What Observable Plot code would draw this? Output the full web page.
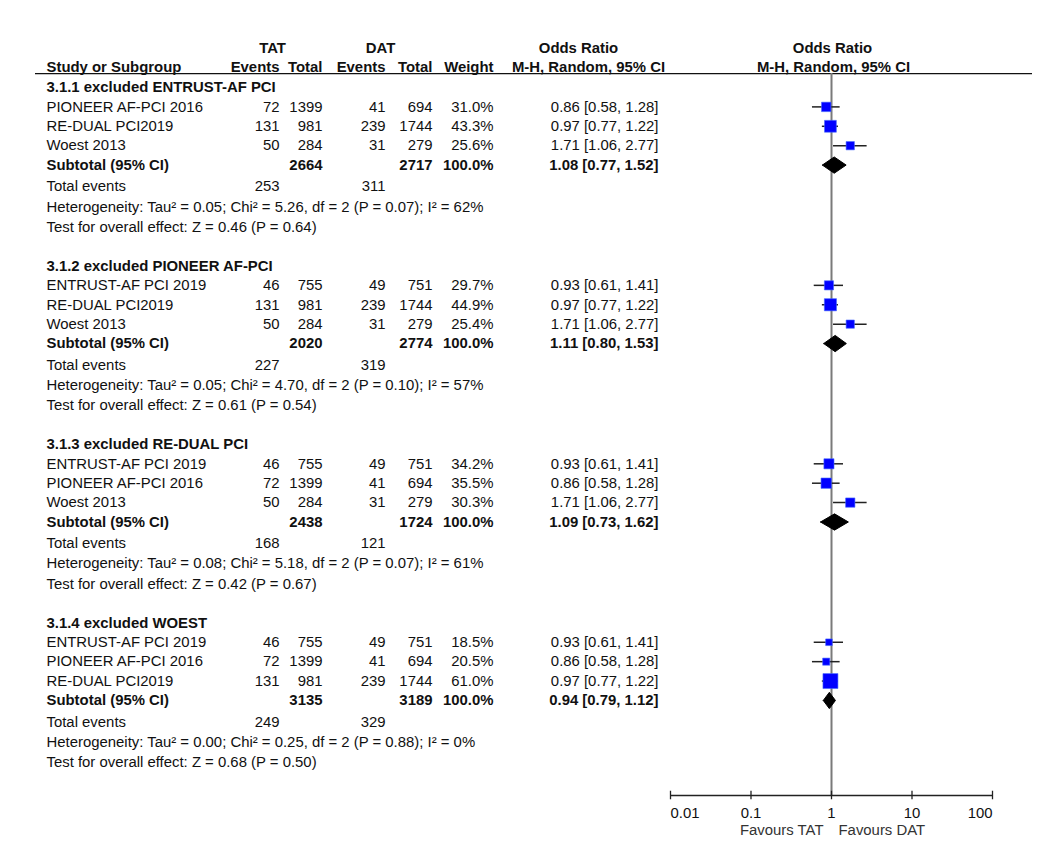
<!DOCTYPE html>
<html>
<head>
<meta charset="utf-8">
<script src="https://cdn.jsdelivr.net/npm/d3@7"></script>
<script src="https://cdn.jsdelivr.net/npm/@observablehq/plot@0.6"></script>
<style>
  html, body { margin: 0; padding: 0; background: #fff; }
  #chart svg { display: block; }
</style>
</head>
<body>
<div id="chart"></div>
<script>
// ---------------- DATA ----------------
const groupTitles = [
  "3.1.1 excluded ENTRUST-AF PCI",
  "3.1.2 excluded PIONEER AF-PCI",
  "3.1.3 excluded RE-DUAL PCI",
  "3.1.4 excluded WOEST"
];
// study rows per group
const studyNames = [
  ["PIONEER AF-PCI 2016", "RE-DUAL PCI2019", "Woest 2013"],
  ["ENTRUST-AF PCI 2019", "RE-DUAL PCI2019", "Woest 2013"],
  ["ENTRUST-AF PCI 2019", "PIONEER AF-PCI 2016", "Woest 2013"],
  ["ENTRUST-AF PCI 2019", "PIONEER AF-PCI 2016", "RE-DUAL PCI2019"]
];
const tatEvents = [[72, 131, 50], [46, 131, 50], [46, 72, 50], [46, 72, 131]];
const tatTotal  = [[1399, 981, 284], [755, 981, 284], [755, 1399, 284], [755, 1399, 981]];
const datEvents = [[41, 239, 31], [49, 239, 31], [49, 41, 31], [49, 41, 239]];
const datTotal  = [[694, 1744, 279], [751, 1744, 279], [751, 694, 279], [751, 694, 1744]];
const weights   = [[31.0, 43.3, 25.6], [29.7, 44.9, 25.4], [34.2, 35.5, 30.3], [18.5, 20.5, 61.0]];
const orEst     = [[0.86, 0.97, 1.71], [0.93, 0.97, 1.71], [0.93, 0.86, 1.71], [0.93, 0.86, 0.97]];
const orLow     = [[0.58, 0.77, 1.06], [0.61, 0.77, 1.06], [0.61, 0.58, 1.06], [0.61, 0.58, 0.77]];
const orHigh    = [[1.28, 1.22, 2.77], [1.41, 1.22, 2.77], [1.41, 1.28, 2.77], [1.41, 1.28, 1.22]];

// subtotals per group
const subTatTotal = [2664, 2020, 2438, 3135];
const subDatTotal = [2717, 2774, 1724, 3189];
const subEst  = [1.08, 1.11, 1.09, 0.94];
const subLow  = [0.77, 0.80, 0.73, 0.79];
const subHigh = [1.52, 1.53, 1.62, 1.12];
const totTatEvents = [253, 227, 168, 249];
const totDatEvents = [311, 319, 121, 329];
const heterogeneity = [
  "Heterogeneity: Tau² = 0.05; Chi² = 5.26, df = 2 (P = 0.07); I² = 62%",
  "Heterogeneity: Tau² = 0.05; Chi² = 4.70, df = 2 (P = 0.10); I² = 57%",
  "Heterogeneity: Tau² = 0.08; Chi² = 5.18, df = 2 (P = 0.07); I² = 61%",
  "Heterogeneity: Tau² = 0.00; Chi² = 0.25, df = 2 (P = 0.88); I² = 0%"
];
const overallTest = [
  "Test for overall effect: Z = 0.46 (P = 0.64)",
  "Test for overall effect: Z = 0.61 (P = 0.54)",
  "Test for overall effect: Z = 0.42 (P = 0.67)",
  "Test for overall effect: Z = 0.68 (P = 0.50)"
];
const axisTicks = [0.01, 0.1, 1, 10, 100];
const axisTickLabels = ["0.01", "0.1", "1", "10", "100"];

// ---------------- LAYOUT (row units) ----------------
const GROUP_STEP = 9.2;
const OFF = {head: 0, study: [1, 2, 3], sub: 4, tot: 5.1, het: 6.15, test: 7.2};
const AXIS_Y = 36.5, TICKLAB_Y = 37.4, FAV_Y = 38.3;
const HDR1_Y = -2.05, HDR2_Y = -1.03, HDR_LINE_Y = -0.72;

const ML = 35, MR = 8;
const col = px => px - ML;          // column anchor → dx from frame left
const C = {label: 46, tatE: 279, tatT: 322, datE: 385, datT: 432, wt: 493, orTxt: 658,
           tatHead: 272, datHead: 380, orHead: 578, plotHead: 832};

const fmt1 = d3.format(".1f");
const fmt2 = d3.format(".2f");
const ciText = (e, l, h) => `${fmt2(e)} [${fmt2(l)}, ${fmt2(h)}]`;
const str = k => d => String(d[k]);

const studies = [];
const groupRows = [];
groupTitles.forEach((title, g) => {
  const base = g * GROUP_STEP;
  groupRows.push({
    g, title,
    yHead: base + OFF.head, ySub: base + OFF.sub, yTot: base + OFF.tot,
    yHet: base + OFF.het, yTest: base + OFF.test,
    subTat: subTatTotal[g], subDat: subDatTotal[g],
    est: subEst[g], lo: subLow[g], hi: subHigh[g],
    totTat: totTatEvents[g], totDat: totDatEvents[g],
    het: heterogeneity[g], test: overallTest[g]
  });
  studyNames[g].forEach((name, i) => {
    studies.push({
      g, name, y: base + OFF.study[i],
      tatE: tatEvents[g][i], tatT: tatTotal[g][i],
      datE: datEvents[g][i], datT: datTotal[g][i],
      w: weights[g][i], est: orEst[g][i], lo: orLow[g][i], hi: orHigh[g][i]
    });
  });
});

const DIAMOND_H = 0.42;
const diamondPts = groupRows.flatMap(r => [
  {g: r.g, x: r.lo, y: r.ySub},
  {g: r.g, x: r.est, y: r.ySub - DIAMOND_H},
  {g: r.g, x: r.hi, y: r.ySub},
  {g: r.g, x: r.est, y: r.ySub + DIAMOND_H},
  {g: r.g, x: r.lo, y: r.ySub}
]);

const headers1 = [
  {t: "TAT", dx: col(C.tatHead)},
  {t: "DAT", dx: col(C.datHead)},
  {t: "Odds Ratio", dx: col(C.orHead)},
  {t: "Odds Ratio", dx: col(C.plotHead)}
];
const headers2 = [
  {t: "Study or Subgroup", dx: col(C.label), a: "start"},
  {t: "Events", dx: col(C.tatE), a: "end"},
  {t: "Total", dx: col(C.tatT), a: "end"},
  {t: "Events", dx: col(C.datE), a: "end"},
  {t: "Total", dx: col(C.datT), a: "end"},
  {t: "Weight", dx: col(C.wt), a: "end"},
  {t: "M-H, Random, 95% CI", dx: col(C.orHead + 10), a: "middle"},
  {t: "M-H, Random, 95% CI", dx: col(C.plotHead + 1), a: "middle"}
];

const FONT = "'Liberation Sans', Arial, Helvetica, sans-serif";
const FS = 14.9;
const T = (data, opts) => Plot.text(data, {frameAnchor: "left", fill: "#111", fontSize: FS, ...opts});

const firstTick = [axisTicks[0]], midTicks = axisTicks.slice(1, -1), lastTick = [axisTicks[axisTicks.length - 1]];
const tickLabel = d => axisTickLabels[axisTicks.indexOf(d)];

const marks = [
  // header line
  Plot.ruleY([HDR_LINE_Y], {stroke: "#111", strokeWidth: 1.3}),
  // header texts
  ...headers1.map(h => T([h], {y: () => HDR1_Y, text: "t", dx: h.dx, textAnchor: "middle", fontWeight: "bold"})),
  ...headers2.map(h => T([h], {y: () => HDR2_Y, text: "t", dx: h.dx, textAnchor: h.a, fontWeight: "bold"})),
  // group titles
  T(groupRows, {y: "yHead", text: "title", dx: col(C.label), textAnchor: "start", fontWeight: "bold"}),
  // study rows
  T(studies, {y: "y", text: "name", dx: col(C.label), textAnchor: "start"}),
  T(studies, {y: "y", text: str("tatE"), dx: col(C.tatE), textAnchor: "end"}),
  T(studies, {y: "y", text: str("tatT"), dx: col(C.tatT), textAnchor: "end"}),
  T(studies, {y: "y", text: str("datE"), dx: col(C.datE), textAnchor: "end"}),
  T(studies, {y: "y", text: str("datT"), dx: col(C.datT), textAnchor: "end"}),
  T(studies, {y: "y", text: d => fmt1(d.w) + "%", dx: col(C.wt), textAnchor: "end"}),
  T(studies, {y: "y", text: d => ciText(d.est, d.lo, d.hi), dx: col(C.orTxt), textAnchor: "end"}),
  // subtotal rows
  T(groupRows, {y: "ySub", text: () => "Subtotal (95% CI)", dx: col(C.label), textAnchor: "start", fontWeight: "bold"}),
  T(groupRows, {y: "ySub", text: str("subTat"), dx: col(C.tatT), textAnchor: "end", fontWeight: "bold"}),
  T(groupRows, {y: "ySub", text: str("subDat"), dx: col(C.datT), textAnchor: "end", fontWeight: "bold"}),
  T(groupRows, {y: "ySub", text: () => "100.0%", dx: col(C.wt), textAnchor: "end", fontWeight: "bold"}),
  T(groupRows, {y: "ySub", text: d => ciText(d.est, d.lo, d.hi), dx: col(C.orTxt), textAnchor: "end", fontWeight: "bold"}),
  // total events
  T(groupRows, {y: "yTot", text: () => "Total events", dx: col(C.label), textAnchor: "start"}),
  T(groupRows, {y: "yTot", text: str("totTat"), dx: col(C.tatE), textAnchor: "end"}),
  T(groupRows, {y: "yTot", text: str("totDat"), dx: col(C.datE), textAnchor: "end"}),
  // heterogeneity & test
  T(groupRows, {y: "yHet", text: "het", dx: col(C.label), textAnchor: "start"}),
  T(groupRows, {y: "yTest", text: "test", dx: col(C.label), textAnchor: "start"}),

  // forest plot: line of no effect
  Plot.ruleX([1], {y1: HDR_LINE_Y, y2: AXIS_Y, stroke: "#7a7a7a", strokeWidth: 2}),
  // axis
  Plot.ruleY([AXIS_Y], {x1: axisTicks[0], x2: axisTicks[axisTicks.length - 1], stroke: "#222", strokeWidth: 1.3}),
  Plot.ruleX(axisTicks, {x: d => d, y1: AXIS_Y - 0.22, y2: AXIS_Y + 0.22, stroke: "#222", strokeWidth: 1.3}),
  Plot.text(firstTick, {x: d => d, y: () => TICKLAB_Y, text: tickLabel, textAnchor: "start", fontSize: FS, fill: "#111"}),
  Plot.text(midTicks, {x: d => d, y: () => TICKLAB_Y, text: tickLabel, textAnchor: "middle", fontSize: FS, fill: "#111"}),
  Plot.text(lastTick, {x: d => d, y: () => TICKLAB_Y, text: tickLabel, textAnchor: "end", fontSize: FS, fill: "#111"}),
  Plot.text(["Favours TAT"], {x: () => 1, y: () => FAV_Y, text: d => d, dx: -8, textAnchor: "end", fontSize: FS, fill: "#333"}),
  Plot.text(["Favours DAT"], {x: () => 1, y: () => FAV_Y, text: d => d, dx: 7, textAnchor: "start", fontSize: FS, fill: "#333"}),

  // CI whiskers
  Plot.ruleY(studies, {y: "y", x1: "lo", x2: "hi", stroke: "#222", strokeWidth: 1.5}),
  // weighted squares
  Plot.dot(studies, {x: "est", y: "y", r: "w", symbol: "square", fill: "#0000ff", stroke: "#4a6cff", strokeWidth: 0.6}),
  // diamonds
  Plot.line(diamondPts, {x: "x", y: "y", z: "g", fill: "#000", stroke: "#000", strokeWidth: 1})
];

const chart = Plot.plot({
  width: 1040,
  height: 851,
  marginLeft: ML,
  marginRight: MR,
  marginTop: 0,
  marginBottom: 0,
  style: {fontFamily: FONT, fontSize: FS + "px", background: "#fff", overflow: "visible"},
  x: {type: "log", domain: [0.01, 100], range: [670, 992], axis: null},
  y: {type: "linear", domain: [0, AXIS_Y], range: [87, 795], axis: null},
  r: {type: "pow", exponent: 0.68, domain: [0, 61], range: [0, 8.46]},
  marks
});
document.getElementById("chart").appendChild(chart);
</script>
</body>
</html>
